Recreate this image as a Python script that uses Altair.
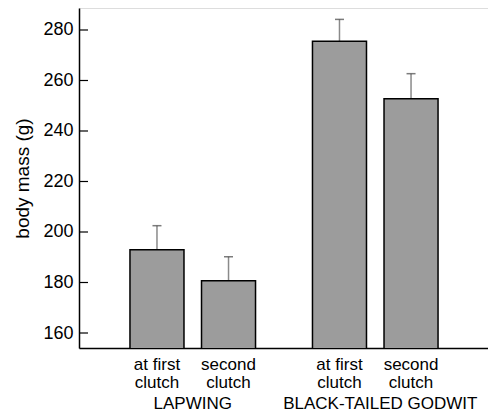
import altair as alt
import pandas as pd

species = ["LAPWING", "LAPWING", "BLACK-TAILED GODWIT", "BLACK-TAILED GODWIT"]
clutch = ["first", "second", "first", "second"]
clutch_labels = ["at first\nclutch", "second\nclutch", "at first\nclutch", "second\nclutch"]
mass = [193.0, 180.7, 275.5, 252.8]
upper = [202.5, 190.2, 284.2, 262.7]
y_ticks = [160, 180, 200, 220, 240, 260, 280]
y_domain = [154.06, 288.71]

df = pd.DataFrame({"species": species, "clutch": clutch, "label": clutch_labels,
                   "mass": mass, "upper": upper})
ticks_df = pd.DataFrame({"v": y_ticks})

FONT = "Liberation Sans"
species_order = ["LAPWING", "BLACK-TAILED GODWIT"]

x_enc = alt.X("species:N", sort=species_order,
              scale=alt.Scale(paddingInner=0.312, paddingOuter=0.2765, align=0.505),
              axis=alt.Axis(title=None, labelAngle=0, ticks=False, labelFontSize=17,
                            labelColor="black", labelBaseline="alphabetic", labelPadding=60,
                            labelLimit=0, domainColor="black", domainWidth=1.5,
                            labelFont=FONT,
                            labelOffset={"condition": {"test": "datum.value == 'BLACK-TAILED GODWIT'",
                                                       "value": 5}, "value": 0}))
xo_enc = alt.XOffset("clutch:N", sort=["first", "second"],
                     scale=alt.Scale(paddingInner=0.245, paddingOuter=0))
y_scale = alt.Scale(domain=y_domain, zero=False, nice=False)
y_enc = alt.Y("mass:Q", scale=y_scale,
              axis=alt.Axis(title="body mass (g)", values=y_ticks, ticks=False, grid=False,
                            labelFontSize=18, labelColor="black", labelPadding=6,
                            titleFontSize=19, titleFontWeight="normal", titleColor="black",
                            titlePadding=10, domainColor="black", domainWidth=1.5,
                            labelFont=FONT, titleFont=FONT))

base = alt.Chart(df)

stems = base.mark_rule(color="#8a8a8a", strokeWidth=1.5).encode(
    x=x_enc, xOffset=xo_enc, y=alt.Y("mass:Q", scale=y_scale), y2="upper:Q")
caps = base.mark_tick(color="#444444", thickness=1.5, size=9, orient="horizontal").encode(
    x=x_enc, xOffset=xo_enc, y=alt.Y("upper:Q", scale=y_scale))
bars = base.mark_bar(fill="#9c9c9c", stroke="black", strokeWidth=1.5, clip=True).encode(
    x=x_enc, xOffset=xo_enc, y=y_enc)
labels = base.mark_text(font=FONT, fontSize=17, baseline="alphabetic", align="center",
                        lineBreak="\n", lineHeight=18, color="black").encode(
    x=x_enc, xOffset=xo_enc, y=alt.value(362), text="label:N")
yticks = alt.Chart(ticks_df).mark_rule(color="black", strokeWidth=1.2).encode(
    y=alt.Y("v:Q", scale=y_scale), x=alt.value(0), x2=alt.value(9))

chart = alt.layer(stems, caps, bars, yticks, labels).properties(
    width=409, height=340,
    autosize=alt.AutoSizeParams(type="none"),
    padding={"left": 71, "top": 0, "right": 0, "bottom": 68},
).configure_view(stroke="black", strokeWidth=1.5).configure(font=FONT)

chart.save("out.html", embed_options={"renderer": "svg", "actions": False})
